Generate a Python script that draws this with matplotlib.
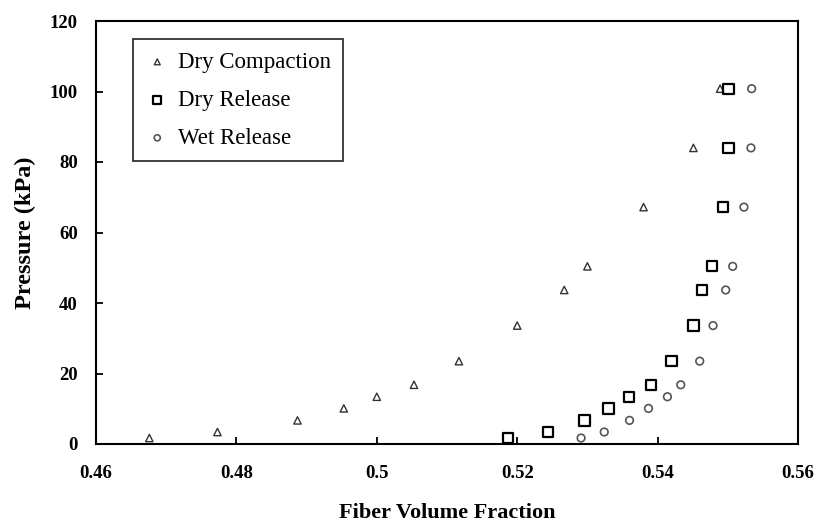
import matplotlib
matplotlib.use("Agg")
import matplotlib.pyplot as plt
from matplotlib.ticker import FuncFormatter

# pressure levels (kPa), shared by all three series
pressure = [1.7, 3.4, 6.7, 10.1, 13.4, 16.8, 23.5, 33.6, 43.7, 50.4, 67.2, 84.0, 100.8]

vf_dry_compaction = [0.4676, 0.4773, 0.4887, 0.4953, 0.5000, 0.5053, 0.5117,
                     0.5200, 0.5267, 0.5300, 0.5380, 0.5451, 0.5489]
vf_dry_release = [0.5187, 0.5244, 0.5296, 0.5330, 0.5359, 0.5391, 0.5420,
                  0.5451, 0.5463, 0.5477, 0.5493, 0.5501, 0.5501]
vf_wet_release = [0.5291, 0.5324, 0.5360, 0.5387, 0.5414, 0.5433, 0.5460,
                  0.5479, 0.5497, 0.5507, 0.5523, 0.5533, 0.5534]

plt.rcParams["font.family"] = ["Liberation Serif", "DejaVu Serif"]

fig = plt.figure(figsize=(8.18, 5.23), dpi=100)
ax = fig.add_axes([96 / 818, 79 / 523, 702 / 818, 423 / 523])

ax.scatter(vf_dry_compaction, pressure, marker="^", s=28, facecolors="none",
           edgecolors="#333333", linewidths=1.0, label="Dry Compaction")
ax.scatter(vf_dry_release, pressure, marker="s", s=55, facecolors="none",
           edgecolors="black", linewidths=1.6, label="Dry Release")
ax.scatter(vf_wet_release, pressure, marker="o", s=30, facecolors="none",
           edgecolors="#555555", linewidths=1.2, label="Wet Release")

ax.set_xlim(0.46, 0.56)
ax.set_ylim(0, 120)
ax.set_xticks([0.46, 0.48, 0.5, 0.52, 0.54, 0.56])
ax.set_yticks([0, 20, 40, 60, 80, 100, 120])
ax.xaxis.set_major_formatter(FuncFormatter(lambda v, p: "%g" % v))
ax.tick_params(direction="in", length=5, width=1.3, labelsize=13.5)
for lab in ax.get_xticklabels() + ax.get_yticklabels():
    lab.set_fontweight("bold")
ax.tick_params(axis="x", pad=15)
ax.tick_params(axis="y", pad=13)
for sp in ax.spines.values():
    sp.set_linewidth(1.5)

ax.set_xlabel("Fiber Volume Fraction", fontsize=16, fontweight="bold", labelpad=15)
ax.set_ylabel("Pressure (kPa)", fontsize=17.5, fontweight="bold", labelpad=10)

leg = ax.legend(loc="upper left", bbox_to_anchor=(0.053, 0.957), fontsize=16.5,
                frameon=True, fancybox=False, edgecolor="black",
                handletextpad=0.4, borderpad=0.55, labelspacing=0.74,
                handlelength=1.0, markerscale=0.8, borderaxespad=0)
leg.get_frame().set_linewidth(1.3)

fig.savefig("out.png", dpi=100)
